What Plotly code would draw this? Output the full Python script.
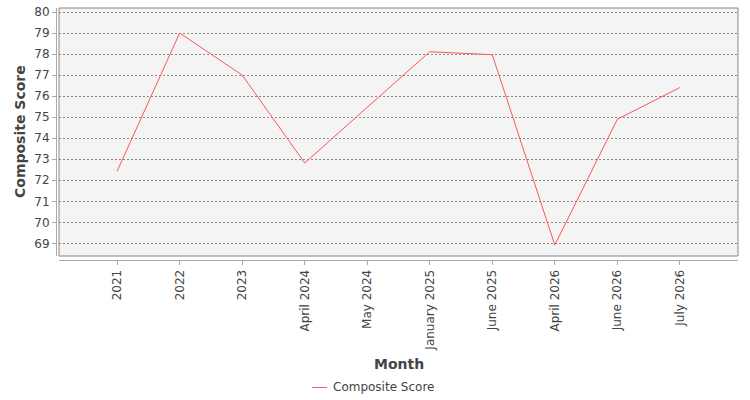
import plotly.graph_objects as go

months = ["2021", "2022", "2023", "April 2024", "May 2024", "January 2025",
          "June 2025", "April 2026", "June 2026", "July 2026"]
scores = [72.43, 79.0, 77.0, 72.82, 75.47, 78.11, 77.97, 68.92, 74.9, 76.41]
y_ticks = list(range(69, 81))
series_name = "Composite Score"

W, H = 750, 400
ml, mr, mt, mb = 56, 12, 8, 140
pw = W - ml - mr
ph = H - mt - mb
xd0 = 3 / pw
yd0 = 4 / ph

def py(pix):
    # pixel y (from top) -> paper y
    return (H - mb - pix) / ph

def px(pix):
    return (pix - ml) / pw

line_color = "#ff5555"

fig = go.Figure()
fig.add_trace(go.Scatter(
    x=list(range(len(months))), y=scores, mode="lines",
    name=series_name, showlegend=False,
    line=dict(color=line_color, width=1),
))

font_main = "DejaVu Sans, Verdana, sans-serif"
fig.update_layout(
    width=W, height=H,
    margin=dict(l=ml, r=mr, t=mt, b=mb, autoexpand=False),
    paper_bgcolor="white",
    plot_bgcolor="#f4f4f4",
    font=dict(family=font_main, size=12, color="#444444"),
    xaxis=dict(
        domain=[xd0, 1], anchor="free", position=0, automargin=False,
        range=[-0.93, 9.93],
        tickmode="array", tickvals=list(range(len(months))), ticktext=months,
        tickangle=-90, ticks="outside", ticklen=4, tickcolor="#aaaaaa",
        showline=True, linecolor="#aaaaaa", linewidth=1,
        showgrid=False, zeroline=False,
        tickfont=dict(size=12, color="#444444"),
    ),
    yaxis=dict(
        domain=[yd0, 1], anchor="free", position=0, automargin=False,
        range=[68.4, 80.19],
        tickmode="array", tickvals=y_ticks,
        ticks="outside", ticklen=4, tickcolor="#aaaaaa",
        showline=True, linecolor="#aaaaaa", linewidth=1,
        showgrid=True, gridcolor="#8a8a8a", gridwidth=0.8, griddash="2px,2px",
        zeroline=False,
        tickfont=dict(size=12, color="#444444"),
    ),
    annotations=[
        dict(text="<b>Month</b>", xref="paper", yref="paper", x=px(398.5), y=py(364),
             xanchor="center", yanchor="middle", showarrow=False,
             font=dict(size=14, color="#444444")),
        dict(text="<b>Composite Score</b>", xref="paper", yref="paper", x=px(20), y=py(132),
             xanchor="center", yanchor="middle", showarrow=False, textangle=-90,
             font=dict(size=14, color="#444444")),
        dict(text=series_name, xref="paper", yref="paper", x=px(331), y=py(387),
             xanchor="left", yanchor="middle", showarrow=False,
             font=dict(size=12, color="#444444")),
    ],
)
fig.add_shape(type="rect", xref="paper", yref="paper", x0=xd0, x1=1, y0=yd0, y1=1,
              line=dict(color="#888888", width=1), fillcolor="rgba(0,0,0,0)", layer="above")
# legend swatch
fig.add_shape(type="line", xref="paper", yref="paper", x0=px(312), x1=px(327),
              y0=py(387.5), y1=py(387.5), line=dict(color=line_color, width=1))

fig.write_html("out.html")
